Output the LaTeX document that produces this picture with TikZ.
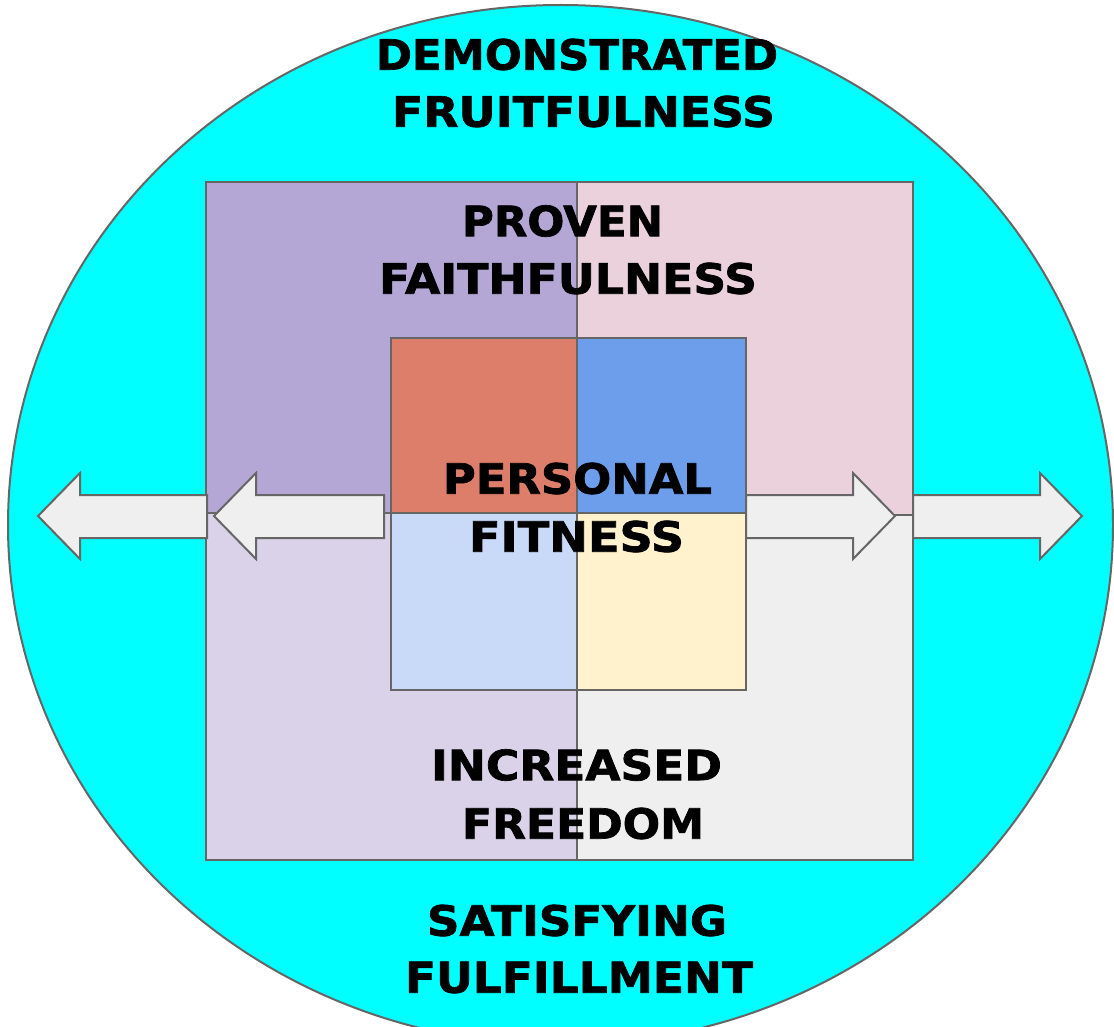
\documentclass[tikz,border=0pt]{standalone}
\usepackage{fontspec}
\setmainfont{DejaVu Sans}[BoldFeatures={FakeBold=1.6}]
\usepackage{graphicx}
\definecolor{cyanbg}{HTML}{00FFFF}
\definecolor{edgegrey}{HTML}{666666}
\definecolor{qtl}{HTML}{B4A7D6}
\definecolor{qtr}{HTML}{EAD1DC}
\definecolor{qbl}{HTML}{D9D2E9}
\definecolor{qbr}{HTML}{EFEFEF}
\definecolor{itl}{HTML}{DD7E6B}
\definecolor{itr}{HTML}{6D9EEB}
\definecolor{ibl}{HTML}{C9DAF8}
\definecolor{ibr}{HTML}{FFF2CC}
\definecolor{arrowfill}{HTML}{EFEFEF}
\newcommand\fitline[2]{\resizebox{#1pt}{31pt}{\bfseries #2}}
\begin{document}
\begin{tikzpicture}[x=1pt,y=-1pt,
  edge/.style={draw=edgegrey,line width=2pt,line join=miter},
  bigarrow/.style={edge,fill=arrowfill},
  lbl/.style={inner sep=0pt,text=black}]
\useasboundingbox (0,0) rectangle (1114,1027);
\clip (0,0) rectangle (1114,1027);
\fill[white] (0,0) rectangle (1114,1027);
% circle
\draw[edge,fill=cyanbg] (560.5,525) ellipse [x radius=552.5, y radius=520];
% outer quadrants
\draw[edge,fill=qtl] (206,182) rectangle (577,513);
\draw[edge,fill=qtr] (577,182) rectangle (913,515);
\draw[edge,fill=qbl] (206,513) rectangle (577,860);
\draw[edge,fill=qbr] (577,515) rectangle (913,860);
% inner quadrants
\draw[edge,fill=itl] (391,338) rectangle (577,513);
\draw[edge,fill=itr] (577,338) rectangle (746,513);
\draw[edge,fill=ibl] (391,513) rectangle (577,690);
\draw[edge,fill=ibr] (577,513) rectangle (746,690);
% arrows
\draw[bigarrow] (38,516) -- (80,473) -- (80,495) -- (207,495) -- (207,538) -- (80,538) -- (80,559) -- cycle;
\draw[bigarrow] (214,516) -- (256,473) -- (256,495) -- (384,495) -- (384,538) -- (256,538) -- (256,559) -- cycle;
\draw[bigarrow] (746,495) -- (853,495) -- (853,473) -- (895,516) -- (853,559) -- (853,538) -- (746,538) -- cycle;
\draw[bigarrow] (913,495) -- (1040,495) -- (1040,473) -- (1082,516) -- (1040,559) -- (1040,538) -- (913,538) -- cycle;
% labels
\node[lbl] (demo1) at (577,54.5) {\fitline{402}{DEMONSTRATED}};
\node[lbl] (demo2) at (583.5,111.5) {\fitline{383}{FRUITFULNESS}};
\node[lbl] (prov1) at (562.5,221) {\fitline{201}{PROVEN}};
\node[lbl] (prov2) at (568,278.5) {\fitline{378}{FAITHFULNESS}};
\node[lbl] (pers1) at (577.5,478.5) {\fitline{269}{PERSONAL}};
\node[lbl] (pers2) at (576.5,536.5) {\fitline{215}{FITNESS}};
\node[lbl] (incr1) at (576.5,765) {\fitline{291}{INCREASED}};
\node[lbl] (incr2) at (583,823.5) {\fitline{242}{FREEDOM}};
\node[lbl] (sat1) at (577,920.5) {\fitline{300}{SATISFYING}};
\node[lbl] (sat2) at (579,977.5) {\fitline{348}{FULFILLMENT}};
\end{tikzpicture}
\end{document}
